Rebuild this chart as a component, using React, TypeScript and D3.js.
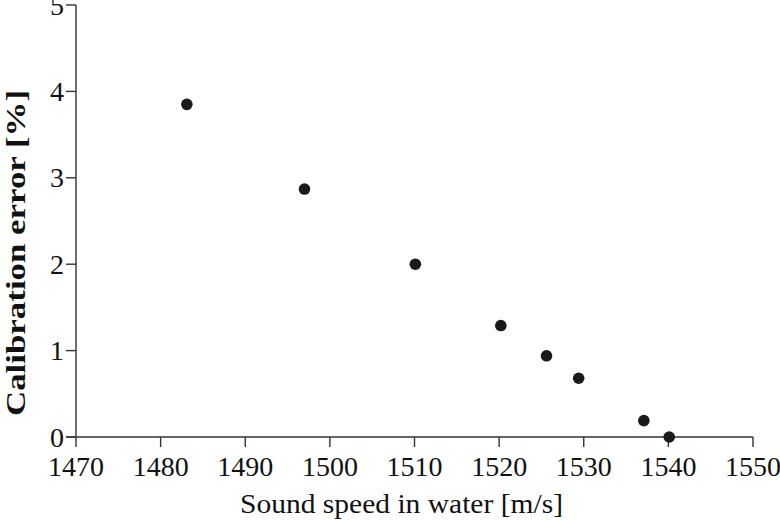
import React from "react";
import * as d3 from "d3";

const soundSpeed = [1483.1, 1497.0, 1510.1, 1520.2, 1525.6, 1529.4, 1537.1, 1540.1];
const calibrationError = [3.85, 2.87, 2.0, 1.29, 0.94, 0.68, 0.19, 0.0];
const xTicks = [1470, 1480, 1490, 1500, 1510, 1520, 1530, 1540, 1550];
const yTicks = [0, 1, 2, 3, 4, 5];
const xLabel = "Sound speed in water [m/s]";
const yLabel = "Calibration error [%]";

const W = 780;
const H = 520;
const left = 76;
const right = 753;
const top = 5;
const bottom = 437;

export default function App() {
  const x = d3.scaleLinear().domain([1470, 1550]).range([left, right]);
  const y = d3.scaleLinear().domain([0, 5]).range([bottom, top]);
  const axisColor = "#333";
  const font = "'Liberation Serif', 'DejaVu Serif', serif";
  return (
    <svg
      width={W}
      height={H}
      style={{ position: "absolute", left: 0, top: 0, background: "#fff" }}
      fontFamily={font}
    >
      <line x1={left} x2={left} y1={top} y2={bottom} stroke={axisColor} strokeWidth={1.4} />
      <line x1={left - 10} x2={right} y1={bottom} y2={bottom} stroke={axisColor} strokeWidth={1.4} />
      {yTicks.map((t) => (
        <g key={"y" + t}>
          <line x1={left - 10} x2={left} y1={y(t)} y2={y(t)} stroke={axisColor} strokeWidth={1.4} />
          <text
            x={left - 12}
            y={y(t)}
            textAnchor="end"
            dominantBaseline="central"
            fontSize={28}
            fill="#111"
          >
            {t}
          </text>
        </g>
      ))}
      {xTicks.map((t) => (
        <g key={"x" + t}>
          <line x1={x(t)} x2={x(t)} y1={bottom} y2={bottom + 10} stroke={axisColor} strokeWidth={1.4} />
          <text x={x(t)} y={bottom + 39} textAnchor="middle" fontSize={28} fill="#111">
            {t}
          </text>
        </g>
      ))}
      <text
        x={240}
        y={513}
        textAnchor="start"
        fontSize={27}
        fill="#111"
        textLength={323}
        lengthAdjust="spacingAndGlyphs"
      >
        {xLabel}
      </text>
      <text
        transform={`translate(25, 416) rotate(-90)`}
        textAnchor="start"
        fontSize={28}
        fontWeight="bold"
        fill="#111"
        textLength={326}
        lengthAdjust="spacingAndGlyphs"
      >
        {yLabel}
      </text>
      {soundSpeed.map((s, i) => (
        <circle key={i} cx={x(s)} cy={y(calibrationError[i])} r={5.8} fill="#1a1a1a" />
      ))}
    </svg>
  );
}
